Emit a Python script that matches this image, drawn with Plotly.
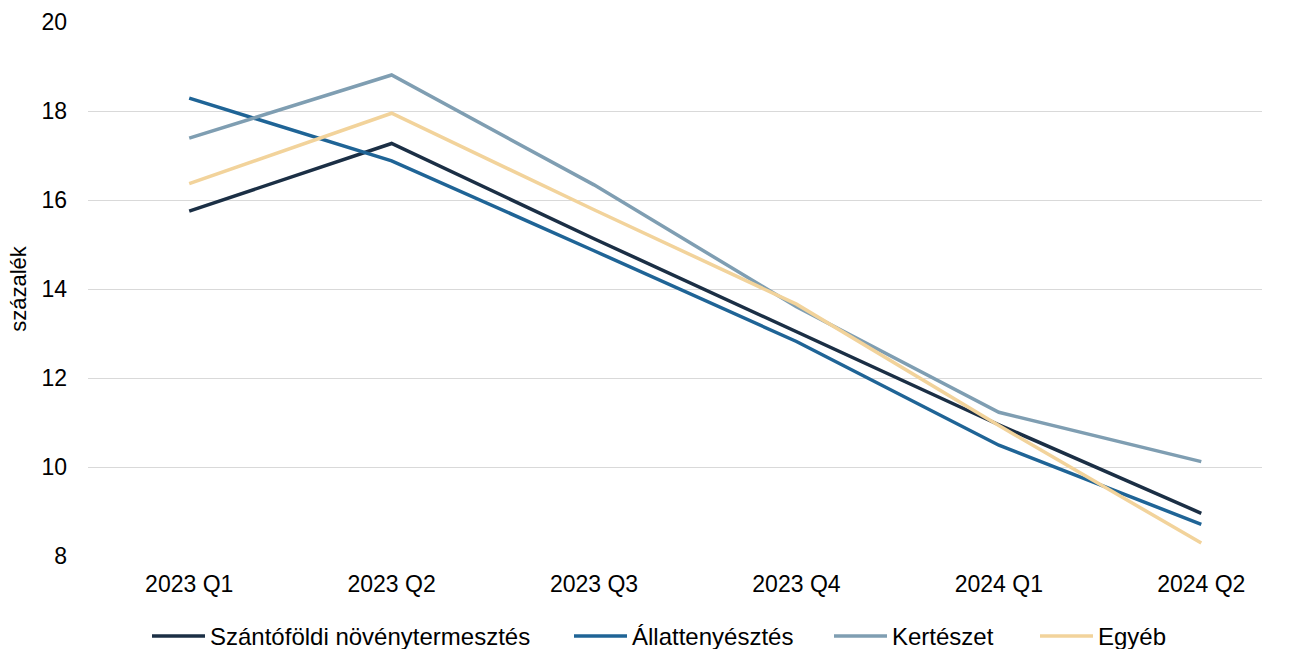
import plotly.graph_objects as go

categories = ["2023 Q1", "2023 Q2", "2023 Q3", "2023 Q4", "2024 Q1", "2024 Q2"]
szantofoldi = [15.75, 17.27, 15.13, 13.05, 10.95, 8.96]
allattenyesztes = [18.29, 16.88, 14.86, 12.82, 10.49, 8.71]
kerteszet = [17.39, 18.81, 16.34, 13.60, 11.23, 10.12]
egyeb = [16.37, 17.95, 15.78, 13.66, 10.93, 8.29]

series_names = ["Szántóföldi növénytermesztés", "Állattenyésztés", "Kertészet", "Egyéb"]
series_values = [szantofoldi, allattenyesztes, kerteszet, egyeb]
series_colors = ["#1b2f45", "#1f6496", "#7f9eb2", "#f2d39b"]

font = "Arial, Liberation Sans, sans-serif"

W, H = 1290, 649
ML, MR, MT, MB = 88, 28, 22, 93
PW = W - ML - MR
PH = H - MT - MB

fig = go.Figure()
for name, vals, color in zip(series_names, series_values, series_colors):
    fig.add_trace(go.Scatter(
        x=categories, y=vals, mode="lines", name=name,
        line=dict(color=color, width=3.5), showlegend=False,
    ))

# custom legend (Excel-like long line samples)
legend_line_starts_px = [152, 574, 834, 1040]
legend_y = -(636 - (H - MB)) / PH
shapes = []
annotations = []
for name, color, x0 in zip(series_names, series_colors, legend_line_starts_px):
    shapes.append(dict(
        type="line", xref="paper", yref="paper",
        x0=(x0 - ML) / PW, x1=(x0 + 53 - ML) / PW, y0=legend_y, y1=legend_y,
        line=dict(color=color, width=3.5),
    ))
    annotations.append(dict(
        xref="paper", yref="paper", x=(x0 + 56 - ML) / PW, y=legend_y,
        xanchor="left", yanchor="middle", text=name, showarrow=False,
        font=dict(family=font, size=24, color="#000000"),
    ))

fig.update_layout(
    width=W, height=H,
    paper_bgcolor="white", plot_bgcolor="white",
    margin=dict(l=ML, r=MR, t=MT, b=MB, autoexpand=False),
    font=dict(family=font, size=23, color="#000000"),
    showlegend=False,
    shapes=shapes,
    annotations=annotations,
    xaxis=dict(
        type="category", range=[-0.5, 5.3], showgrid=False, zeroline=False,
        showline=False, ticks="", tickfont=dict(size=23), automargin=False,
        ticklabelstandoff=12,
    ),
    yaxis=dict(
        range=[8, 20], dtick=2, showgrid=True, gridcolor="#d9d9d9", gridwidth=1,
        zeroline=False, showline=False, ticks="", tickfont=dict(size=23),
        ticklabelstandoff=20, automargin=False,
        title=dict(text="százalék", font=dict(size=22), standoff=8),
    ),
)

fig.write_html(
    "out.html",
    config={"displayModeBar": False},
    post_script="document.body.style.margin='0';document.body.style.overflow='hidden';",
)
